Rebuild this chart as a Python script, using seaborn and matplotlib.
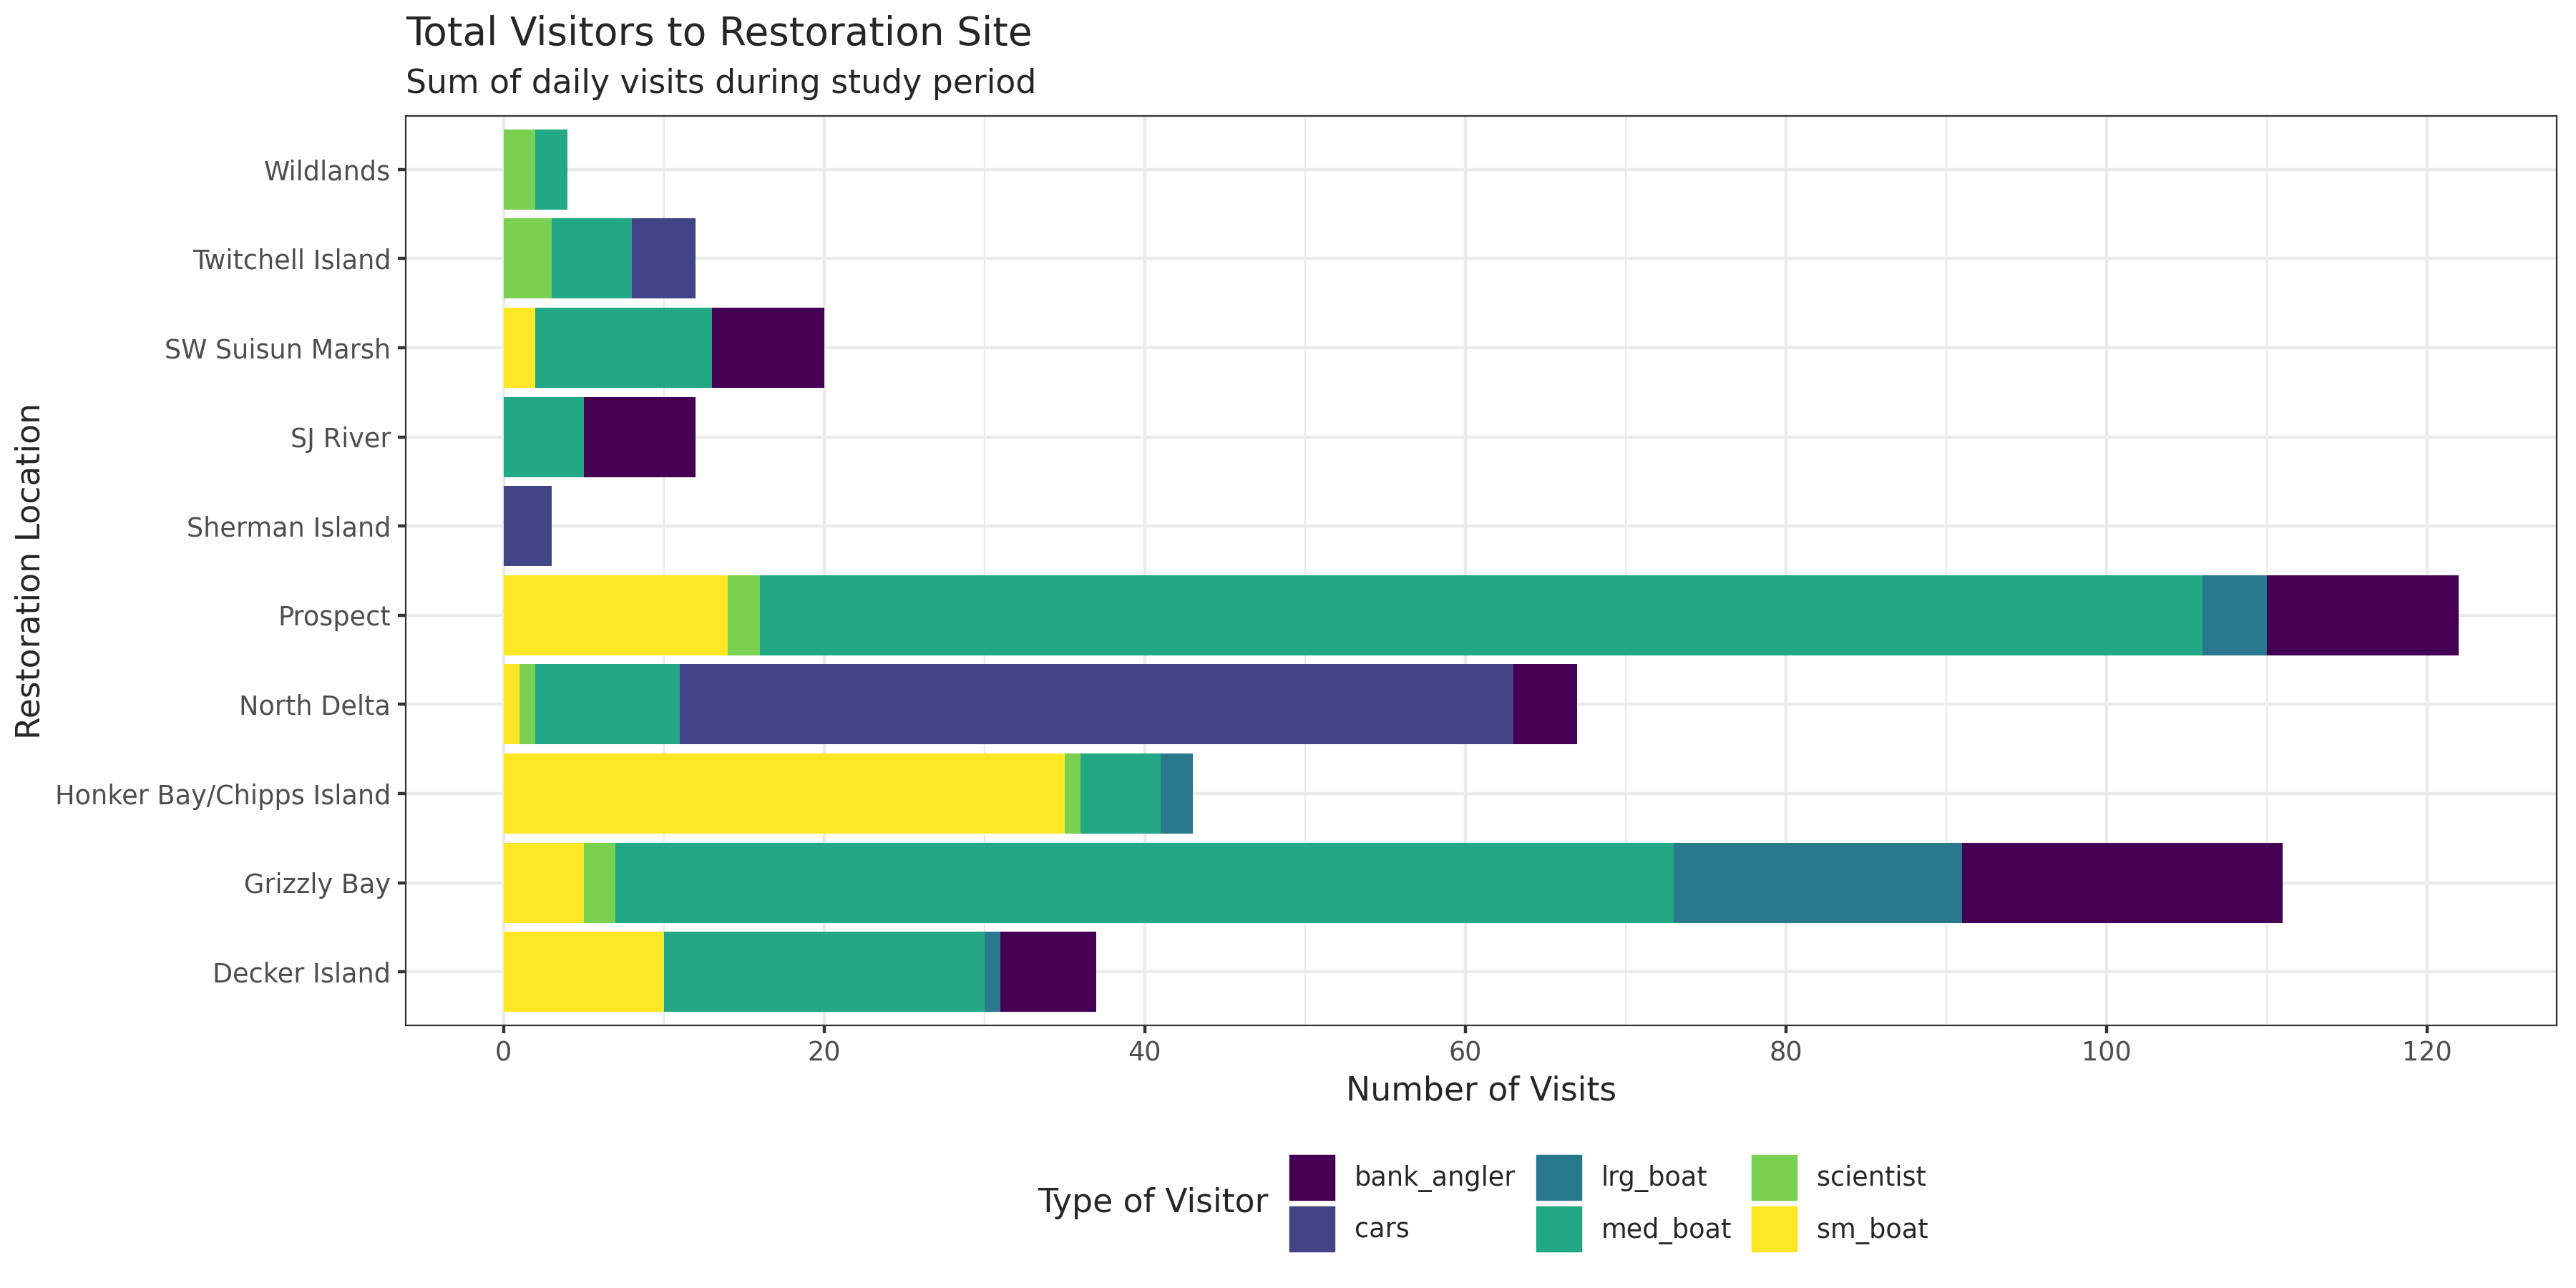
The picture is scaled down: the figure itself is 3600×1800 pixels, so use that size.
import pandas as pd
import matplotlib
matplotlib.use("Agg")
import matplotlib.pyplot as plt
from matplotlib.patches import Patch
import seaborn as sns

# sites, bottom to top as on the y axis
sites = ["Decker Island", "Grizzly Bay", "Honker Bay/Chipps Island", "North Delta",
         "Prospect", "Sherman Island", "SJ River", "SW Suisun Marsh",
         "Twitchell Island", "Wildlands"]
visitor_types = ["bank_angler", "cars", "lrg_boat", "med_boat", "scientist", "sm_boat"]

# daily visit counts per site (same order as `sites`)
sm_boat = [[2, 8], [1, 4], [35], [1], [7, 5, 2], [], [], [2], [], []]
scientist = [[], [2], [1], [1], [2], [], [], [], [3], [2]]
med_boat = [[6, 1, 10, 3], [1, 10, 19, 20, 16], [5], [8, 1], [17, 64, 9], [], [5], [11], [5], [2]]
lrg_boat = [[1], [5, 3, 10], [2], [], [4], [], [], [], [], []]
cars = [[], [], [], [40, 3, 9], [], [3], [], [], [4], []]
bank_angler = [[4, 2], [9, 2, 9], [], [4], [2, 6, 4], [], [7], [5, 2], [], []]

palette = {"bank_angler": "#440154", "cars": "#414487", "lrg_boat": "#2A788E",
           "med_boat": "#22A884", "scientist": "#7AD151", "sm_boat": "#FDE725"}

# long table, stacked left to right in this order
stack_order = [("sm_boat", sm_boat), ("scientist", scientist), ("med_boat", med_boat),
               ("lrg_boat", lrg_boat), ("cars", cars), ("bank_angler", bank_angler)]
rows = []
for vtype, per_site in stack_order:
    for i, days in enumerate(per_site):
        for v in days:
            rows.append({"site": sites[i], "pos": i, "type": vtype, "visits": v})
df = pd.DataFrame(rows)
df["left"] = df.groupby("site")["visits"].cumsum() - df["visits"]

sns.set_theme(style="whitegrid")
plt.rcParams['font.family'] = ['DejaVu Sans']

# sizes (pt) for a 225 dpi canvas that mimics a 300 dpi ggplot export
S = 300 / 225
base = 11 * S
small = 8.8 * S
lw = 0.5 * 2.845 * 0.75 * S

W, H = 3600, 1800
fig = plt.figure(figsize=(16, 8), dpi=225)
ax = fig.add_axes([567 / W, 1 - 1433 / H, (3573 - 567) / W, (1433 - 162) / H])
ax.set_facecolor("white")

for vtype, sub in df.groupby("type"):
    ax.barh(sub["pos"], sub["visits"], left=sub["left"], height=0.9,
            color=palette[vtype], linewidth=0, zorder=2)

ax.set_xlim(-6.1, 128.1)
ax.set_ylim(-0.6, len(sites) - 0.4)
ax.set_yticks(range(len(sites)))
ax.set_yticklabels(sites)
ax.set_xticks(range(0, 121, 20))
ax.set_xticks(range(10, 121, 20), minor=True)

ax.grid(False)
ax.grid(which="major", color="#EBEBEB", linewidth=lw, zorder=0)
ax.grid(which="minor", axis="x", color="#EBEBEB", linewidth=lw / 2, zorder=0)
ax.set_axisbelow(True)

for sp in ax.spines.values():
    sp.set_color("#333333")
    sp.set_linewidth(lw / 2)
    sp.set_visible(True)

ax.tick_params(which="major", length=2.75 * S, width=lw, color="#333333",
               labelcolor="#4D4D4D", labelsize=small, pad=2.2 * S,
               bottom=True, left=True)
ax.tick_params(which="minor", length=0)

ax.set_xlabel("Number of Visits", fontsize=base, labelpad=2.75 * S)
ax.set_ylabel("Restoration Location", fontsize=base, labelpad=2.75 * S)

fig.text(567 / W, 1 - 63 / H, "Total Visitors to Restoration Site",
         fontsize=13.2 * S, va="baseline", ha="left")
fig.text(567 / W, 1 - 130 / H, "Sum of daily visits during study period",
         fontsize=base, va="baseline", ha="left")

handles = [Patch(facecolor=palette[t], edgecolor="white", linewidth=0.5, label=t)
           for t in visitor_types]
fig.legend(handles=handles, ncol=3, loc="center left",
           bbox_to_anchor=(1801 / W, 1 - 1682 / H), frameon=False, fontsize=small,
           handlelength=1.8, handleheight=2.39, handletextpad=0.71,
           columnspacing=0.74, labelspacing=0.19, borderpad=0, borderaxespad=0)
fig.text(1773 / W, 1 - 1682 / H, "Type of Visitor", fontsize=base,
         ha="right", va="center")

fig.savefig("out.png", dpi=225)
